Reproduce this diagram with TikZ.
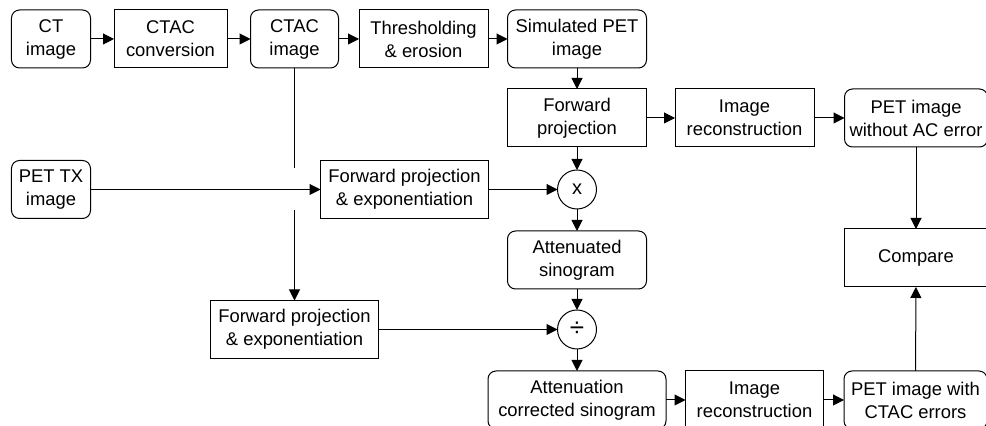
\documentclass[tikz,border=0pt]{standalone}
\usepackage{fontspec}
\setmainfont{Liberation Sans}
\usetikzlibrary{arrows.meta, positioning}

\begin{document}
\begin{tikzpicture}[
    box/.style={rectangle, draw, minimum height=29pt, inner xsep=0pt, inner ysep=2pt, outer sep=0pt, align=center, font=\fontsize{9.2}{11.5}\selectfont},
    img/.style={box, rounded corners=4pt},
    op/.style={circle, draw, minimum size=19.5pt, inner sep=0pt, outer sep=0pt, font=\fontsize{10}{12}\selectfont},
    flow/.style={-{Triangle[length=5.5pt, width=5.5pt]}},
    line width=0.5pt
]
\useasboundingbox (-25.5pt,19.5pt) rectangle (467.5pt,-193.5pt);

% CT chain
\node[img, minimum width=39.5pt] (ct) at (0,0) {CT\\image};
\node[box, minimum width=56.5pt, right=11.75pt of ct] (ctacconv) {CTAC\\conversion};
\node[img, minimum width=44pt, right=11.75pt of ctacconv] (ctac) {CTAC\\image};
\node[box, minimum width=64.5pt, right=10.25pt of ctac] (thresh) {Thresholding\\\& erosion};
\node[img, minimum width=69.5pt, right=9.75pt of thresh] (sim) {Simulated PET\\image};

% Simulated acquisition
\node[box, minimum width=69.5pt, below=10.5pt of sim] (fwd) {Forward\\projection};
\node[box, minimum width=69.5pt, right=14.25pt of fwd] (recon1) {Image\\reconstruction};
\node[img, minimum width=71.5pt, right=15.25pt of recon1] (petnoac) {PET image\\without AC error};
\node[op, below=11.5pt of fwd] (mul) {x};
\node[img, minimum width=69.5pt, below=11pt of mul] (attsino) {Attenuated\\sinogram};
\node[op, below=10.5pt of attsino, font=\fontsize{13}{13}\selectfont] (div) {÷};
\node[img, minimum width=89pt, below=11pt of div] (acsino) {Attenuation\\corrected sinogram};
\node[box, minimum width=69pt, right=9.75pt of acsino] (recon2) {Image\\reconstruction};
\node[img, minimum width=71.5pt, right=10.25pt of recon2] (petctac) {PET image with\\CTAC errors};
\node[box, minimum width=71.5pt, below=41pt of petnoac] (compare) {Compare};

% Attenuation maps
\node[img, minimum width=39.5pt] (pettx) at (ct |- mul) {PET TX\\image};
\node[box, minimum width=84pt, left=34.5pt of mul] (fwdexp1) {Forward projection\\\& exponentiation};
\node[box, minimum width=84pt] (fwdexp2) at (ctac |- div) {Forward projection\\\& exponentiation};
\path (ctac |- mul) ++(0,10.5pt) coordinate (gapA) ++(0,-21pt) coordinate (gapB);

% Connections
\draw[flow] (ct) -- (ctacconv);
\draw[flow] (ctacconv) -- (ctac);
\draw[flow] (ctac) -- (thresh);
\draw[flow] (thresh) -- (sim);
\draw[flow] (sim) -- (fwd);
\draw[flow] (fwd) -- (recon1);
\draw[flow] (recon1) -- (petnoac);
\draw[flow] (fwd) -- (mul);
\draw[flow] (mul) -- (attsino);
\draw[flow] (attsino) -- (div);
\draw[flow] (div) -- (acsino);
\draw[flow] (acsino) -- (recon2);
\draw[flow] (recon2) -- (petctac);
\draw[flow] (petnoac) -- (compare);
\draw[flow] (petctac) -- (compare);
\draw[flow] (pettx) -- (fwdexp1);
\draw[flow] (fwdexp1) -- (mul);
\draw (ctac) -- (gapA);
\draw[flow] (gapB) -- (fwdexp2);
\draw[flow] (fwdexp2) -- (div);

\end{tikzpicture}
\end{document}
